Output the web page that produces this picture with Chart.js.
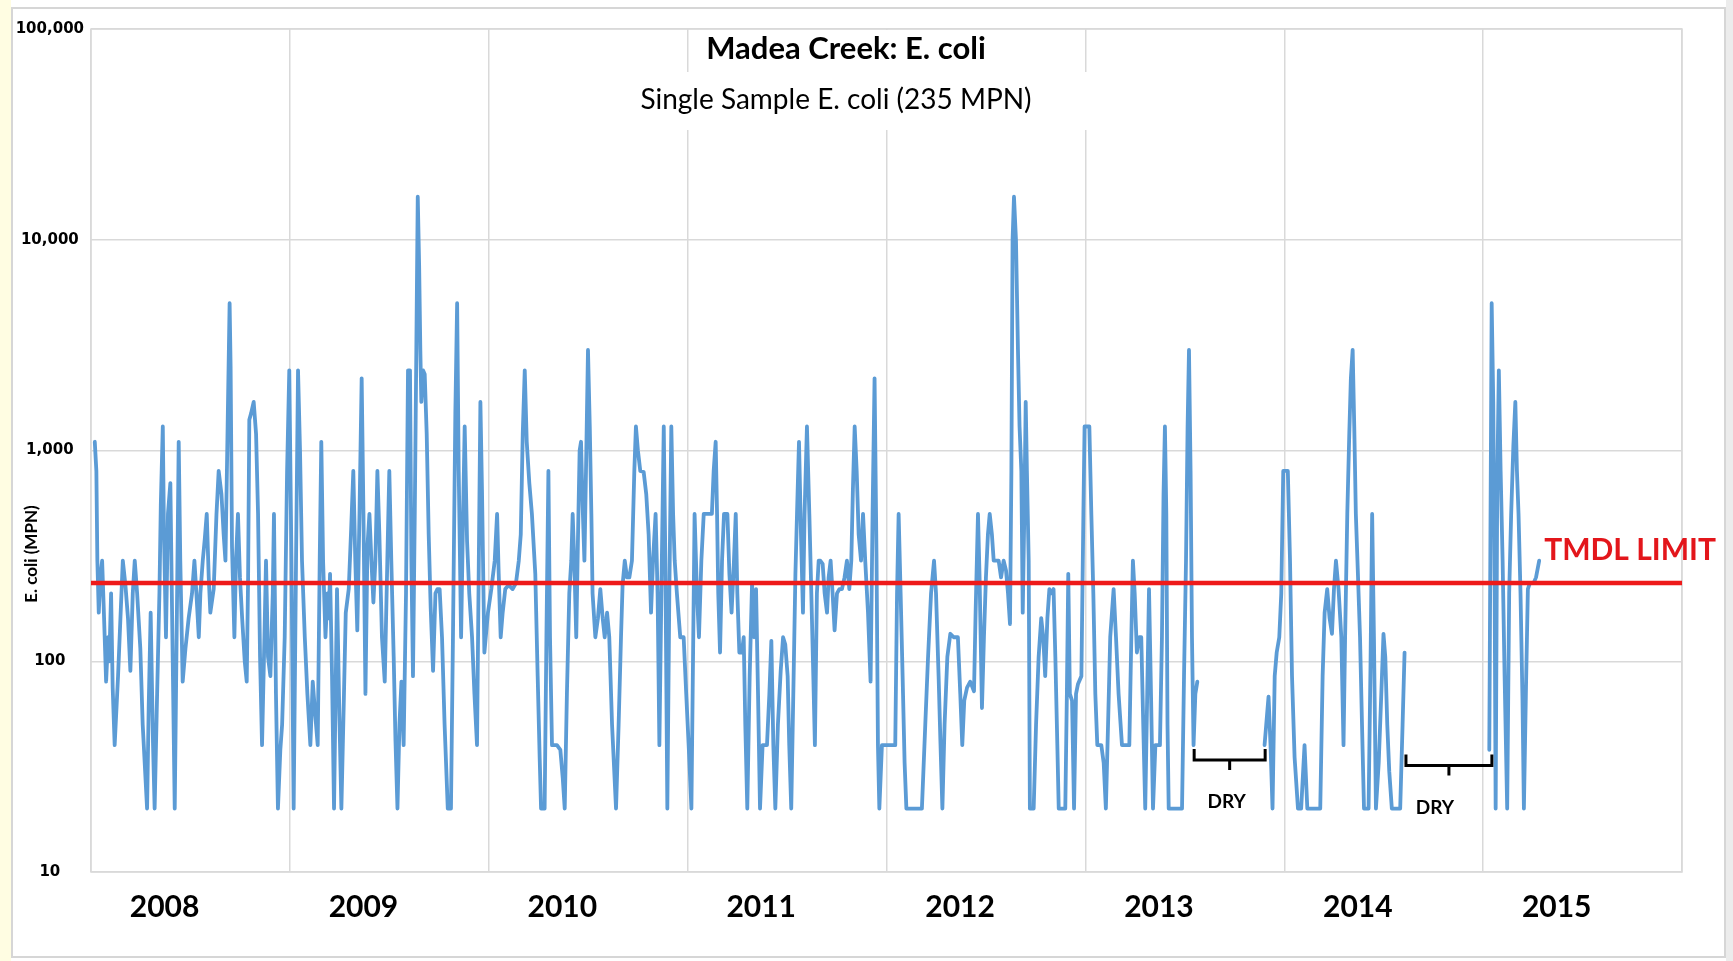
<!DOCTYPE html>
<html>
<head>
<meta charset="utf-8">
<title>Madea Creek: E. coli</title>
<script src="https://cdn.jsdelivr.net/npm/chart.js@4.4.1/dist/chart.umd.min.js"></script>
<style>
    html, body { margin: 0; padding: 0; background: #ffffff; }
    #wrap { width: 1733px; height: 961px; }
</style>
</head>
<body>
<div id="wrap"><canvas id="ecoliChart" width="1733" height="961"></canvas></div>
<script>
// Sample data: [decimal year, E. coli MPN]; null = no flow (dry)
const samples2008 = [[2008.019,1100],[2008.027,800],[2008.032,300],[2008.039,170],[2008.047,250],[2008.056,300],[2008.064,180],[2008.076,80],[2008.086,130],[2008.092,100],[2008.101,210],[2008.109,75],[2008.119,40],[2008.136,85],[2008.148,160],[2008.160,300],[2008.173,230],[2008.186,160],[2008.198,90],[2008.210,210],[2008.220,300],[2008.232,210],[2008.248,115],[2008.260,50],[2008.282,20],[2008.290,60],[2008.300,170],[2008.312,40],[2008.320,20],[2008.330,55],[2008.344,210],[2008.351,550],[2008.361,1300],[2008.367,400],[2008.377,130],[2008.387,500],[2008.399,700],[2008.411,100],[2008.421,20],[2008.433,210],[2008.441,1100],[2008.449,300],[2008.461,80],[2008.475,115],[2008.491,160],[2008.508,210],[2008.520,300],[2008.530,210],[2008.542,130],[2008.550,210],[2008.562,300],[2008.572,380],[2008.582,500],[2008.592,250],[2008.600,170],[2008.617,220],[2008.631,500],[2008.642,800],[2008.656,620],[2008.667,400],[2008.676,300],[2008.687,1300],[2008.697,5000],[2008.702,2500],[2008.709,350],[2008.721,130],[2008.729,300],[2008.739,500],[2008.749,250],[2008.760,160],[2008.773,100],[2008.783,80],[2008.790,250],[2008.796,1400],[2008.805,1500],[2008.818,1700],[2008.830,1200],[2008.840,500],[2008.850,105],[2008.860,40],[2008.872,130],[2008.880,300],[2008.890,105],[2008.902,85],[2008.914,210],[2008.920,500],[2008.930,70],[2008.940,20],[2008.952,38],[2008.961,50],[2008.974,130],[2008.986,800],[2008.997,2400]];
const samples2009 = [[2009.008,300],[2009.019,20],[2009.031,300],[2009.041,2400],[2009.051,1000],[2009.061,300],[2009.075,130],[2009.088,70],[2009.103,40],[2009.115,80],[2009.128,55],[2009.140,40],[2009.150,300],[2009.158,1100],[2009.167,300],[2009.179,130],[2009.189,210],[2009.195,160],[2009.202,260],[2009.212,85],[2009.222,20],[2009.237,220],[2009.249,55],[2009.259,20],[2009.272,70],[2009.281,170],[2009.296,220],[2009.308,420],[2009.319,800],[2009.329,300],[2009.339,140],[2009.350,500],[2009.361,2200],[2009.370,500],[2009.380,70],[2009.390,350],[2009.400,500],[2009.410,300],[2009.420,190],[2009.430,300],[2009.440,800],[2009.450,400],[2009.463,130],[2009.477,80],[2009.490,300],[2009.500,800],[2009.510,300],[2009.522,105],[2009.531,42],[2009.541,20],[2009.551,50],[2009.561,80],[2009.572,40],[2009.584,210],[2009.594,2400],[2009.604,2400],[2009.611,300],[2009.619,85],[2009.628,500],[2009.636,3100],[2009.643,16000],[2009.650,7500],[2009.656,3000],[2009.661,1700],[2009.670,2400],[2009.678,2300],[2009.688,1200],[2009.698,400],[2009.708,180],[2009.720,90],[2009.732,210],[2009.742,220],[2009.753,220],[2009.765,130],[2009.778,50],[2009.794,20],[2009.810,20],[2009.820,130],[2009.832,1500],[2009.841,5000],[2009.849,800],[2009.861,130],[2009.871,500],[2009.879,1300],[2009.891,370],[2009.902,210],[2009.916,130],[2009.928,70],[2009.941,40],[2009.950,300],[2009.958,1700],[2009.966,650],[2009.978,110],[2009.996,170]];
const samples2010 = [[2010.013,220],[2010.030,300],[2010.042,500],[2010.050,260],[2010.060,130],[2010.070,170],[2010.083,220],[2010.100,230],[2010.120,220],[2010.137,235],[2010.151,300],[2010.161,400],[2010.171,1200],[2010.181,2400],[2010.191,1100],[2010.204,700],[2010.217,500],[2010.234,260],[2010.246,85],[2010.256,35],[2010.263,20],[2010.281,20],[2010.290,130],[2010.300,800],[2010.308,130],[2010.318,40],[2010.343,40],[2010.360,38],[2010.372,28],[2010.382,20],[2010.393,70],[2010.405,210],[2010.415,300],[2010.422,500],[2010.430,300],[2010.440,130],[2010.449,400],[2010.457,1000],[2010.464,1100],[2010.472,550],[2010.481,300],[2010.489,800],[2010.499,3000],[2010.508,1300],[2010.516,500],[2010.522,210],[2010.536,130],[2010.549,160],[2010.561,220],[2010.573,160],[2010.583,130],[2010.595,170],[2010.606,130],[2010.620,50],[2010.640,20],[2010.653,50],[2010.665,130],[2010.673,230],[2010.684,300],[2010.695,250],[2010.707,250],[2010.720,300],[2010.732,800],[2010.740,1300],[2010.750,1000],[2010.762,800],[2010.779,790],[2010.792,620],[2010.804,400],[2010.816,170],[2010.826,300],[2010.839,500],[2010.849,210],[2010.858,40],[2010.868,210],[2010.880,1300],[2010.888,300],[2010.898,20],[2010.908,210],[2010.918,1300],[2010.927,500],[2010.935,300],[2010.946,210],[2010.963,130],[2010.980,130],[2010.993,70]];
const samples2011 = [[2011.008,35],[2011.019,20],[2011.035,500],[2011.047,210],[2011.057,130],[2011.069,300],[2011.081,500],[2011.106,500],[2011.122,500],[2011.131,800],[2011.141,1100],[2011.148,500],[2011.154,210],[2011.163,110],[2011.173,300],[2011.183,500],[2011.200,500],[2011.210,260],[2011.221,170],[2011.233,300],[2011.242,500],[2011.250,210],[2011.260,110],[2011.273,110],[2011.282,130],[2011.290,50],[2011.300,20],[2011.312,85],[2011.324,235],[2011.334,130],[2011.344,220],[2011.354,70],[2011.364,20],[2011.377,40],[2011.399,40],[2011.411,70],[2011.421,125],[2011.431,40],[2011.441,20],[2011.454,50],[2011.468,90],[2011.480,130],[2011.491,120],[2011.503,85],[2011.511,40],[2011.521,20],[2011.533,85],[2011.542,260],[2011.550,500],[2011.560,1100],[2011.570,400],[2011.580,170],[2011.588,500],[2011.600,1300],[2011.612,500],[2011.622,210],[2011.632,85],[2011.640,40],[2011.650,210],[2011.659,300],[2011.667,300],[2011.679,290],[2011.689,210],[2011.701,170],[2011.709,250],[2011.719,300],[2011.729,210],[2011.739,140],[2011.751,210],[2011.763,220],[2011.776,220],[2011.789,250],[2011.801,300],[2011.813,220],[2011.823,300],[2011.831,650],[2011.840,1300],[2011.850,800],[2011.860,400],[2011.872,300],[2011.882,500],[2011.893,300],[2011.907,170],[2011.920,80],[2011.930,500],[2011.940,2200],[2011.950,300],[2011.957,40],[2011.964,20],[2011.977,40]];
const samples2012 = [[2012.044,40],[2012.053,210],[2012.061,500],[2012.071,210],[2012.081,85],[2012.091,33],[2012.100,20],[2012.178,20],[2012.195,50],[2012.209,105],[2012.224,210],[2012.239,300],[2012.249,210],[2012.262,85],[2012.271,42],[2012.281,20],[2012.292,50],[2012.306,105],[2012.321,135],[2012.338,130],[2012.359,130],[2012.371,70],[2012.381,40],[2012.391,65],[2012.405,75],[2012.421,80],[2012.440,72],[2012.448,170],[2012.460,500],[2012.468,250],[2012.480,60],[2012.490,130],[2012.500,250],[2012.510,400],[2012.519,500],[2012.530,400],[2012.539,300],[2012.550,300],[2012.564,300],[2012.576,250],[2012.589,300],[2012.601,270],[2012.611,210],[2012.621,150],[2012.628,800],[2012.634,10000],[2012.641,16000],[2012.651,10000],[2012.661,3000],[2012.669,1300],[2012.678,800],[2012.685,170],[2012.693,500],[2012.700,1700],[2012.706,800],[2012.715,300],[2012.721,20],[2012.740,20],[2012.752,50],[2012.765,105],[2012.778,160],[2012.788,130],[2012.798,85],[2012.809,160],[2012.819,220],[2012.829,210],[2012.840,220],[2012.849,105],[2012.859,40],[2012.866,20],[2012.899,20],[2012.907,70],[2012.914,260],[2012.922,70],[2012.933,65],[2012.943,20],[2012.953,70],[2012.963,78],[2012.980,85],[2012.990,500],[2012.996,1300]];
const samples2013 = [[2013.020,1300],[2013.030,500],[2013.040,210],[2013.050,70],[2013.060,40],[2013.080,40],[2013.092,33],[2013.103,20],[2013.114,50],[2013.125,130],[2013.142,220],[2013.154,130],[2013.167,70],[2013.184,40],[2013.221,40],[2013.231,130],[2013.239,300],[2013.248,210],[2013.259,110],[2013.271,130],[2013.281,130],[2013.291,50],[2013.301,20],[2013.311,70],[2013.320,220],[2013.330,70],[2013.340,20],[2013.352,40],[2013.375,40],[2013.385,130],[2013.393,620],[2013.400,1300],[2013.407,500],[2013.413,50],[2013.419,20],[2013.486,20],[2013.496,85],[2013.506,300],[2013.514,1300],[2013.521,3000],[2013.529,800],[2013.536,130],[2013.544,40],[2013.553,70],[2013.563,80],[2013.730,null],[2013.901,40],[2013.913,55],[2013.921,68],[2013.931,40],[2013.941,20],[2013.952,85],[2013.962,110],[2013.975,130],[2013.985,210],[2013.995,800]];
const samples2014 = [[2014.018,800],[2014.029,300],[2014.039,85],[2014.052,35],[2014.069,20],[2014.085,20],[2014.102,40],[2014.116,20],[2014.181,20],[2014.193,85],[2014.203,170],[2014.216,220],[2014.228,160],[2014.240,135],[2014.250,220],[2014.260,300],[2014.273,220],[2014.287,130],[2014.298,40],[2014.306,130],[2014.317,500],[2014.327,1200],[2014.335,2200],[2014.344,3000],[2014.352,1300],[2014.360,500],[2014.371,250],[2014.381,130],[2014.391,50],[2014.401,20],[2014.424,20],[2014.434,100],[2014.442,500],[2014.451,130],[2014.461,20],[2014.475,33],[2014.488,70],[2014.499,135],[2014.508,105],[2014.518,50],[2014.528,30],[2014.541,20],[2014.583,20],[2014.595,50],[2014.605,110],[2014.820,null]];
const samples2015 = [[2015.031,38],[2015.043,5000],[2015.051,1700],[2015.058,210],[2015.063,20],[2015.071,700],[2015.079,2400],[2015.088,800],[2015.098,300],[2015.108,85],[2015.121,20],[2015.131,210],[2015.141,500],[2015.152,1050],[2015.162,1700],[2015.170,800],[2015.178,500],[2015.188,210],[2015.198,65],[2015.205,20],[2015.215,70],[2015.225,220],[2015.235,235],[2015.254,235],[2015.266,250],[2015.282,300]];

const yearLabels = ['2008', '2009', '2010', '2011', '2012', '2013', '2014', '2015'];
const yTicks = [10, 100, 1000, 10000, 100000];
const tmdlLimit = 235;
const dryPeriods = [[2013.547, 2013.904], [2014.612, 2015.044]];

const GraficoEcoli = {
    firstYear: 2008,
    lastYear: 2016,
    labelShift: 0.37,

    init() {
        const ctx = document.getElementById('ecoliChart');
        if (!ctx) return;

        const config = {
            type: 'line',
            data: this.getData(),
            options: this.getOptions(),
            plugins: [this.decorPlugin()]
        };

        new Chart(ctx, config);
    },

    getData() {
        const samples = [samples2008, samples2009, samples2010, samples2011,
            samples2012, samples2013, samples2014, samples2015]
            .flat()
            .map(([x, y]) => ({ x, y }));

        return {
            datasets: [{
                label: 'TMDL limit',
                data: [{ x: this.firstYear, y: tmdlLimit }, { x: this.lastYear, y: tmdlLimit }],
                borderColor: '#ee1a1a',
                borderWidth: 4.5,
                pointRadius: 0
            }, {
                label: 'E. coli',
                data: samples,
                borderColor: '#5b9bd5',
                borderWidth: 3.8,
                borderJoinStyle: 'round',
                borderCapStyle: 'round',
                pointRadius: 0,
                tension: 0,
                spanGaps: false
            }]
        };
    },

    getOptions() {
        const self = this;
        return {
            responsive: false,
            animation: false,
            layout: { padding: { top: 29, right: 51, left: 0, bottom: 0 } },
            plugins: {
                legend: { display: false },
                tooltip: { enabled: false }
            },
            scales: {
                x: {
                    type: 'linear',
                    min: self.firstYear,
                    max: self.lastYear,
                    afterBuildTicks(scale) {
                        const ticks = [];
                        for (let i = 0; i <= yearLabels.length; i++) {
                            ticks.push({ value: self.firstYear + i });
                            if (i < yearLabels.length) ticks.push({ value: self.firstYear + i + self.labelShift });
                        }
                        scale.ticks = ticks;
                    },
                    afterFit(scale) { scale.height = 89; },
                    border: { display: false },
                    grid: {
                        drawTicks: false,
                        lineWidth: 1.5,
                        color: (c) => (c.tick && Number.isInteger(c.tick.value)) ? '#d9d9d9' : 'rgba(0,0,0,0)'
                    },
                    ticks: {
                        autoSkip: false,
                        maxRotation: 0,
                        padding: 17,
                        color: '#000000',
                        font: { family: 'Lato', size: 30, weight: 'bold' },
                        callback: (value) => Number.isInteger(value) ? '' : yearLabels[Math.floor(value) - self.firstYear]
                    }
                },
                y: {
                    type: 'logarithmic',
                    min: 10,
                    max: 100000,
                    afterBuildTicks(scale) {
                        scale.ticks = yTicks.map(v => ({ value: v }));
                    },
                    afterFit(scale) { scale.width = 91; },
                    border: { display: false },
                    grid: { drawTicks: false, lineWidth: 1.5, color: '#d9d9d9' },
                    ticks: {
                        crossAlign: 'center',
                        padding: 7,
                        color: '#000000',
                        font: { family: 'DejaVu Sans', size: 15, weight: 'bold' },
                        callback: (value) => Number(value).toLocaleString('en-US')
                    }
                }
            }
        };
    },

    decorPlugin() {
        return {
            id: 'decor',
            beforeDraw(chart) {
                const { ctx, width, height } = chart;
                ctx.save();
                ctx.fillStyle = '#ffffff';
                ctx.fillRect(0, 0, width, height);
                ctx.fillStyle = '#fffde2';
                ctx.fillRect(0, 0, 11, height);
                ctx.fillStyle = '#ececec';
                ctx.fillRect(1726, 0, width - 1726, height);
                ctx.strokeStyle = '#d6d6d6';
                ctx.lineWidth = 2;
                ctx.strokeRect(12, 8, 1713, 949);
                ctx.restore();
            },
            beforeDatasetsDraw(chart) {
                const { ctx, chartArea: a } = chart;
                ctx.save();
                ctx.strokeStyle = '#d9d9d9';
                ctx.lineWidth = 1.5;
                ctx.strokeRect(a.left, a.top, a.right - a.left, a.bottom - a.top);
                ctx.restore();
            },
            afterDatasetsDraw(chart) {
                const { ctx } = chart;
                const xs = chart.scales.x;
                const ys = chart.scales.y;
                ctx.save();

                // title boxes sit on top of the gridlines
                ctx.fillStyle = '#ffffff';
                ctx.fillRect(690, 30, 315, 42);
                ctx.fillRect(625, 72, 470, 58);
                ctx.fillStyle = '#000000';
                ctx.textAlign = 'center';
                ctx.textBaseline = 'middle';
                ctx.font = 'bold 31px Lato';
                ctx.fillText('Madea Creek: E. coli', 846, 49);
                ctx.font = '28px Lato';
                ctx.fillText('Single Sample E. coli (235 MPN)', 836, 100);

                // axis title
                ctx.save();
                ctx.translate(32, 554);
                ctx.rotate(-Math.PI / 2);
                ctx.font = 'bold 17px Lato';
                ctx.fillText('E. coli (MPN)', 0, 0);
                ctx.restore();

                // TMDL label
                ctx.fillStyle = '#e3161b';
                ctx.textAlign = 'left';
                ctx.font = 'bold 30px Lato';
                ctx.fillText('TMDL LIMIT', xs.getPixelForValue(2015.307), ys.getPixelForValue(tmdlLimit) - 33);

                // dry periods
                ctx.strokeStyle = '#000000';
                ctx.fillStyle = '#000000';
                ctx.lineWidth = 3;
                ctx.textAlign = 'center';
                ctx.font = 'bold 19px Lato';
                dryPeriods.forEach(([start, end], i) => {
                    const x0 = xs.getPixelForValue(start);
                    const x1 = xs.getPixelForValue(end);
                    const yLine = ys.getPixelForValue(i === 0 ? 34 : 32);
                    const mid = (x0 + x1) / 2;
                    ctx.beginPath();
                    ctx.moveTo(x0, yLine - 11);
                    ctx.lineTo(x0, yLine);
                    ctx.lineTo(x1, yLine);
                    ctx.lineTo(x1, yLine - 11);
                    ctx.moveTo(mid, yLine);
                    ctx.lineTo(mid, yLine + 10);
                    ctx.stroke();
                    ctx.fillText('DRY', mid - (i === 0 ? 3 : 14), yLine + 42);
                });
                ctx.restore();
            }
        };
    }
};

document.addEventListener('DOMContentLoaded', () => {
    GraficoEcoli.init();
});
</script>
</body>
</html>
